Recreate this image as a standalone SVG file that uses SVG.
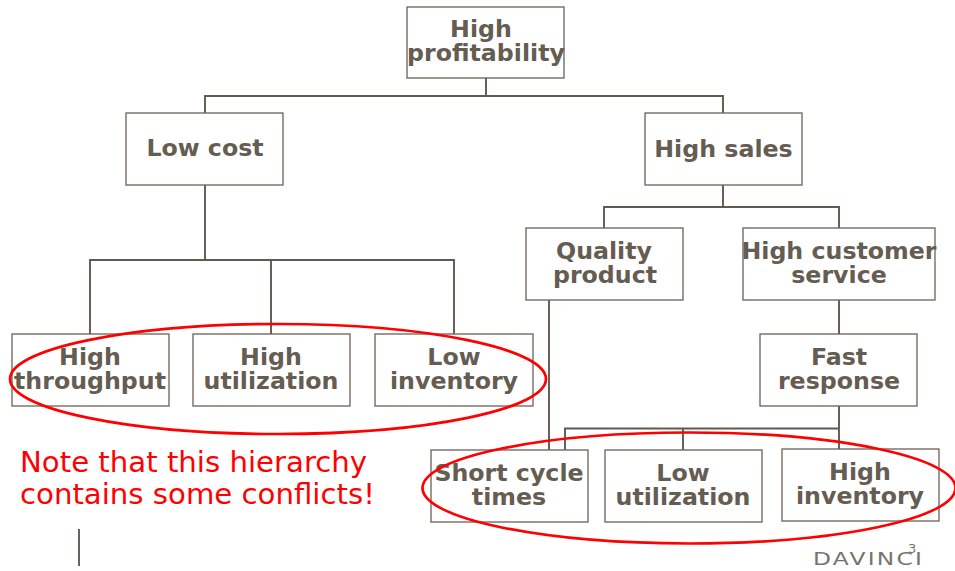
<svg xmlns="http://www.w3.org/2000/svg" width="955" height="571" viewBox="0 0 955 571">
<style>
.n{fill:#fff;stroke:#6b6157;stroke-width:1.3}
.t{font-family:"DejaVu Sans",Verdana,sans-serif;font-weight:700;font-size:23.7px;fill:#655c52;text-anchor:middle}
.c{fill:none;stroke:#62594f;stroke-width:1.9}
.e{fill:none;stroke:#f00;stroke-width:2.7}
.r{font-family:"DejaVu Sans",Verdana,sans-serif;font-size:29.2px;fill:#f00}
.l{font-family:"DejaVu Sans",sans-serif;fill:#77736e}
</style>
<rect width="955" height="571" fill="#fff"/>
<g id="connectors">
<path class="c" d="M486 78V96M205 113V96H723V113"/>
<path class="c" d="M205 185V260M90 334V260H454V334M271 260V334"/>
<path class="c" d="M723 185V207M604 228V207H839V228"/>
<path class="c" d="M839 300V334M549 300V450M839 406V449M565 450V428.500H839M683 428.500V450"/>
<path class="c" d="M79 529V566"/>
</g>
<g id="n1"><rect class="n" x="407" y="7" width="157" height="71"/><text class="t" x="481" y="37">High</text><text class="t" x="486" y="61">profitability</text></g>
<g id="n2"><rect class="n" x="126" y="113" width="157" height="72"/><text class="t" x="205" y="156">Low cost</text></g>
<g id="n3"><rect class="n" x="645" y="113" width="157" height="72"/><text class="t" x="723.500" y="157">High sales</text></g>
<g id="n4"><rect class="n" x="526" y="228" width="157" height="72"/><text class="t" x="604" y="259">Quality</text><text class="t" x="605" y="283">product</text></g>
<g id="n5"><rect class="n" x="743" y="228" width="192" height="72"/><text class="t" x="839" y="259">High customer</text><text class="t" x="839" y="283">service</text></g>
<g id="n6"><rect class="n" x="12" y="334" width="157" height="72"/><text class="t" x="90" y="365">High</text><text class="t" x="90" y="389">throughput</text></g>
<g id="n7"><rect class="n" x="193" y="334" width="157" height="72"/><text class="t" x="271" y="365">High</text><text class="t" x="271" y="389">utilization</text></g>
<g id="n8"><rect class="n" x="375" y="334" width="158" height="72"/><text class="t" x="454" y="365">Low</text><text class="t" x="454" y="389">inventory</text></g>
<g id="n9"><rect class="n" x="760" y="334" width="157" height="72"/><text class="t" x="839" y="365">Fast</text><text class="t" x="839" y="389">response</text></g>
<g id="n10"><rect class="n" x="431" y="450" width="157" height="72"/><text class="t" x="509" y="481">Short cycle</text><text class="t" x="509" y="505">times</text></g>
<g id="n11"><rect class="n" x="605" y="450" width="157" height="72"/><text class="t" x="683" y="481">Low</text><text class="t" x="683" y="505">utilization</text></g>
<g id="n12"><rect class="n" x="782" y="449" width="157" height="72"/><text class="t" x="860" y="480">High</text><text class="t" x="860" y="504">inventory</text></g>
<ellipse class="e" cx="278" cy="379" rx="268" ry="55"/>
<ellipse class="e" cx="689" cy="488" rx="266.500" ry="55.500"/>
<text class="r" x="20" y="472">Note that this hierarchy</text>
<text class="r" x="20" y="504">contains some conflicts!</text>
<text class="l" transform="translate(813 565) scale(1.3 1)" font-size="18" letter-spacing="1.7">DAVINCI</text>
<text class="l" x="908" y="553" font-size="13">3</text>
</svg>
